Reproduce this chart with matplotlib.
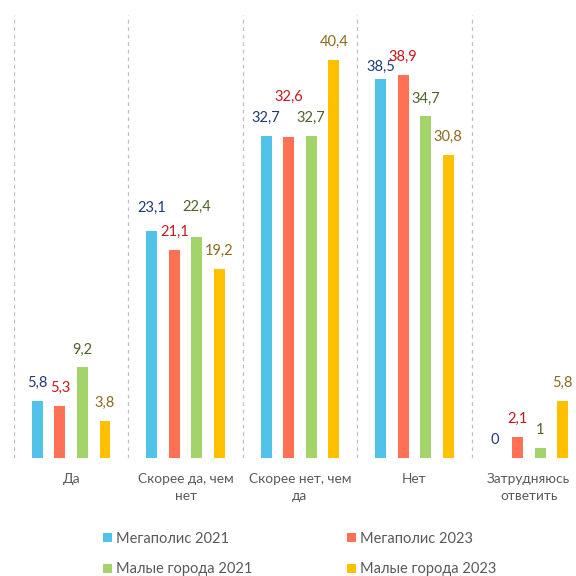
import numpy as np
import matplotlib
matplotlib.use("Agg")
import matplotlib.pyplot as plt

plt.rcParams['font.family'] = ['Lato', 'DejaVu Sans']

categories = ['Да', 'Скорее да, чем\nнет', 'Скорее нет, чем\nда', 'Нет', 'Затрудняюсь\nответить']
series_names = ['Мегаполис 2021', 'Мегаполис 2023', 'Малые города 2021', 'Малые города 2023']
megapolis_2021 = [5.8, 23.1, 32.7, 38.5, 0]
megapolis_2023 = [5.3, 21.1, 32.6, 38.9, 2.1]
small_2021 = [9.2, 22.4, 32.7, 34.7, 1]
small_2023 = [3.8, 19.2, 40.4, 30.8, 5.8]

bar_colors = ['#52C3E8', '#FF7055', '#A2D46A', '#FFC000']
label_colors = ['#1F3A78', '#C8161D', '#4F6228', '#8C6A1E']

# label offsets above the bar top in px (most are 18, some moved by hand)
extra_offset = {(1, 0): 23, (1, 2): 31, (2, 1): 40, (3, 0): 12}

series = [megapolis_2021, megapolis_2023, small_2021, small_2023]

fig = plt.figure(figsize=(5.76, 5.76), dpi=100)
ax = fig.add_axes([14 / 576, (576 - 458) / 576, 572 / 576, (458 - 15) / 576])

x = np.arange(len(categories)) + 0.5
step = 0.197
width = 0.096
bars = []
for i, vals in enumerate(series):
    pos = x + (i - 1.5) * step
    bars.append(ax.bar(pos, vals, width=width, color=bar_colors[i], label=series_names[i], zorder=2))
    for j, v in enumerate(vals):
        off = extra_offset.get((j, i), 18) * 0.72
        ax.annotate(f'{v:g}'.replace('.', ','), (pos[j], v), xytext=(0, off),
                    textcoords='offset points', ha='center', va='center',
                    fontsize=10.5, color=label_colors[i])

for b in range(len(categories) + 1):
    ax.axvline(b, color='#BFBFBF', linestyle=(0, (3, 3)), linewidth=0.9, zorder=1)

ax.set_xlim(0, len(categories))
ax.set_ylim(0, 45)
ax.set_xticks(x)
ax.set_xticklabels(categories, fontsize=9.8, color='#595959', linespacing=1.5)
ax.tick_params(axis='x', length=0, pad=11)
ax.set_yticks([])
for s in ax.spines.values():
    s.set_visible(False)

# legend filled row by row: reorder for matplotlib's column-major layout
order = [0, 2, 1, 3]
fig.legend([bars[k] for k in order], [series_names[k] for k in order],
           loc='center left', bbox_to_anchor=(103 / 576, 1 - 554 / 576), ncol=2, frameon=False,
           fontsize=10.5, labelcolor='#595959', handlelength=0.6, handleheight=0.6,
           handletextpad=0.3, columnspacing=6.5, labelspacing=1.15,
           borderpad=0, borderaxespad=0)

fig.savefig('out.png', dpi=100)
